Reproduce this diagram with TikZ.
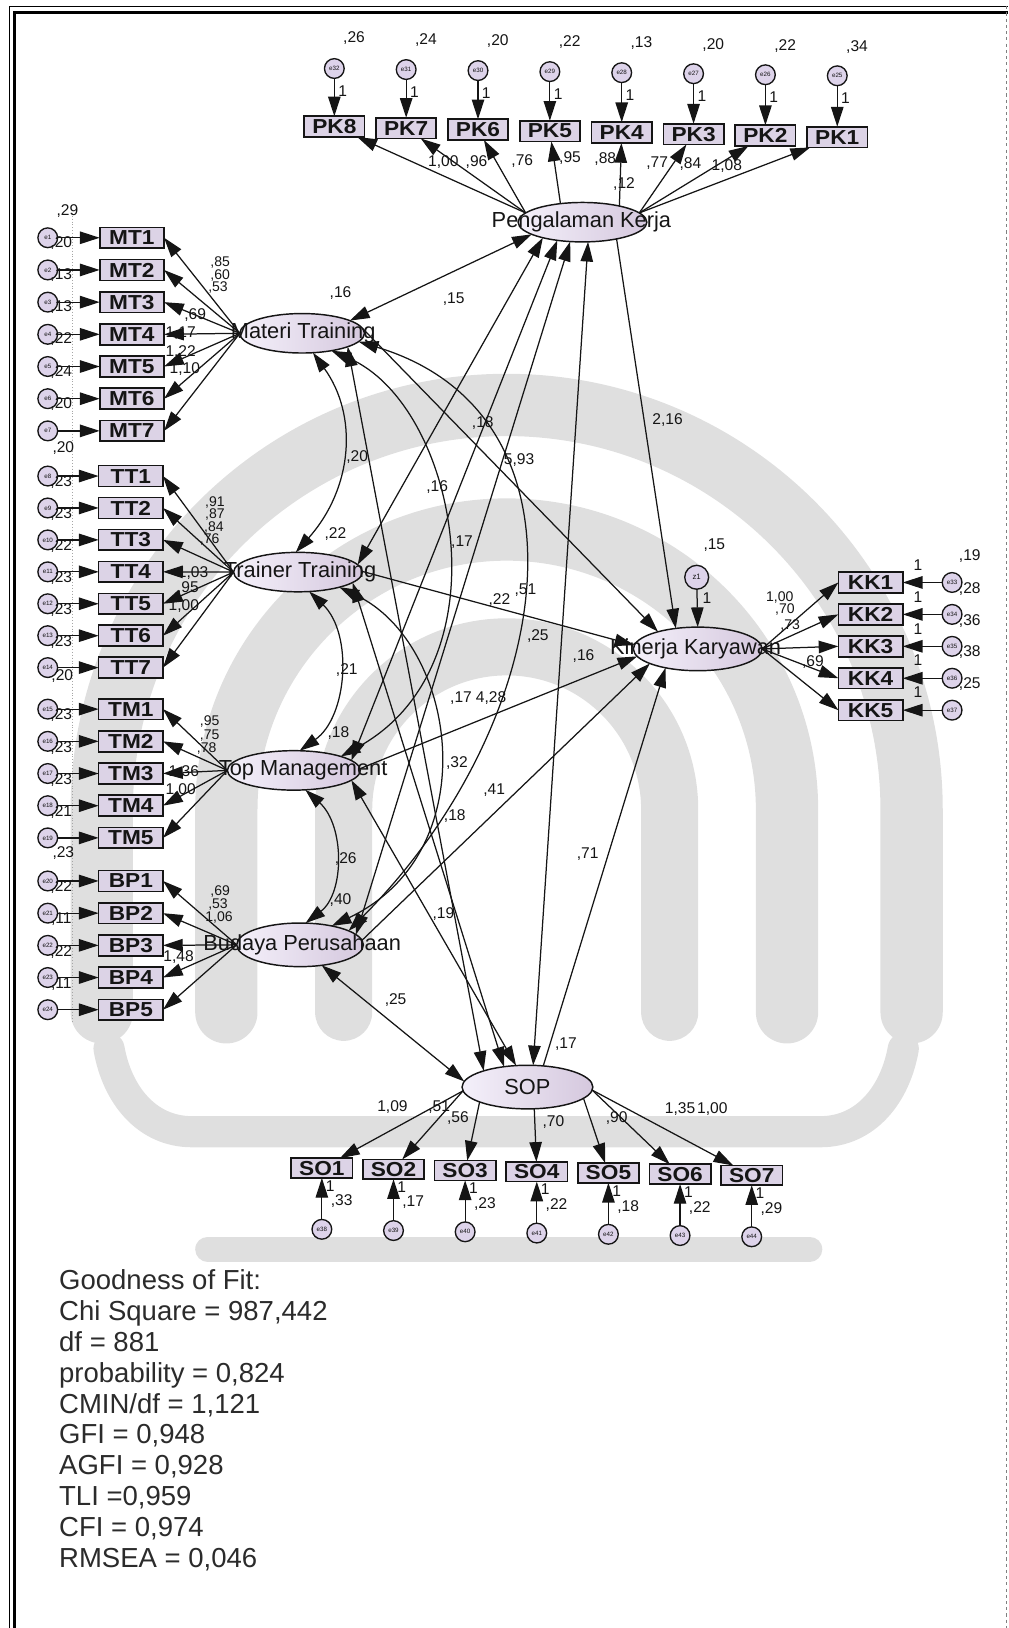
\documentclass[tikz,border=0pt]{standalone}
\usepackage{fontspec}
\setmainfont{Liberation Sans}
\usepackage{graphicx}
\usetikzlibrary{arrows.meta,calc,shapes.geometric}
\definecolor{latL}{HTML}{F4F0FA}
\definecolor{latR}{HTML}{D5C8DE}
\definecolor{obsfill}{HTML}{DCD3E6}
\definecolor{errfill}{HTML}{DDD3EA}
\definecolor{ink}{HTML}{151515}
\definecolor{fittext}{HTML}{2B2B2B}
\definecolor{wmark}{HTML}{DFDFDF}
\newcommand{\boxlabel}[1]{\scalebox{1.12}[1]{#1}}
\begin{document}
\begin{tikzpicture}[x=1pt,y=1pt,
  every node/.style={inner sep=0pt,outer sep=0pt,text=ink},
  lbl/.style={font=\fontsize{15}{15}\selectfont},
  slbl/.style={font=\fontsize{13.5}{13.5}\selectfont},
  obs/.style={draw=ink,line width=1.6pt,fill=obsfill,minimum width=62pt,minimum height=20pt,font=\fontsize{19.5}{19.5}\selectfont\bfseries},
  latent/.style={draw=ink,ellipse,line width=1.4pt,left color=latL,right color=latR},
  lattext/.style={font=\fontsize{21}{21}\selectfont},
  err/.style={draw=ink,circle,line width=1.3pt,fill=errfill,minimum size=19pt,font=\fontsize{6}{6}\selectfont},
  ar/.style={draw=ink,line width=1.2pt,-{Triangle[length=19pt,width=12pt]}},
  dar/.style={draw=ink,line width=1.2pt,{Triangle[length=19pt,width=12pt]}-{Triangle[length=19pt,width=12pt]}},
  band/.style={draw=wmark,line cap=round},
]
\useasboundingbox (0,0) rectangle (971,-1568);

% background emblem: arches over curled bands
\begin{scope}
  \clip (20,-330) rectangle (960,-1240);
  \foreach \r/\w in {390/60,270/60,157/55}
    \draw[band,line width=\w] ({488-\r},-975) -- ({488-\r},-780)
      arc[start angle=180,end angle=0,radius=\r] -- ({488+\r},-975);
  \draw[band,line width=30pt] (105,-1010) to[out=-80,in=180] (185,-1090) -- (790,-1090) to[out=0,in=-100] (870,-1010);
  \draw[band,line width=24pt] (200,-1203) -- (780,-1203);
\end{scope}

% frame
\draw[line width=1.2pt] (9,-1568) -- (9,-6) -- (971,-6);
\draw[line width=2.9pt] (13.5,-1568) -- (13.5,-12) -- (971,-12);
\draw[gray,line width=1pt,dashed] (969.5,-6) -- (969.5,-1568);
\draw[gray!70,line width=0.8pt,dotted] (70,-205) -- (70,-985);

% latent variables
\node[latent,minimum width=124pt,minimum height=38pt] (pk) at (561,-214) {};
\node[latent,minimum width=120pt,minimum height=38pt] (mt) at (291,-321) {};
\node[latent,minimum width=124pt,minimum height=38pt] (tt) at (287,-551) {};
\node[latent,minimum width=128pt,minimum height=38pt] (tm) at (283,-742) {};
\node[latent,minimum width=122pt,minimum height=42pt] (bp) at (289,-910) {};
\node[latent,minimum width=124pt,minimum height=42pt] (kk) at (672,-625) {};
\node[latent,minimum width=126pt,minimum height=42pt] (sop) at (508,-1047) {};
\node[lattext] at (560,-214) {Pengalaman Kerja};
\node[lattext] at (292,-321) {Materi Training};
\node[lattext] at (289,-551) {Trainer Training};
\node[lattext] at (292,-742) {Top Management};
\node[lattext] at (291,-910) {Budaya Perusahaan};
\node[lattext] at (670,-625) {Kinerja Karyawan};
\node[lattext] at (508,-1047) {SOP};
\node[err,minimum size=23pt,font=\fontsize{7.5}{7.5}\selectfont] (z1) at (671,-556) {z1};

% Pengalaman Kerja indicators
\foreach \n [count=\k from 0] in {8,7,6,5,4,3,2,1} {
  \node[obs,minimum width=58pt] (pk\n) at ({322+69.2*\k},{-122-1.43*\k}) {\boxlabel{PK\n}};
  \node[err] (epk\n) at ({322+69.2*\k},{-66-\k}) {e\the\numexpr 24+\n\relax};
  \draw[ar] (epk\n) -- (pk\n);
  \node[lbl] at ({330+69.2*\k},{-88-\k}) {1};
}
\foreach \v [count=\k from 0] in {26,24,20,22,13,20,22,34}
  \node[lbl] at ({341+69.2*\k},{-37-1.2*\k}) {,\v};
\foreach \n in {8,7,6} \draw[ar] ($(pk.center)+(152:62 and 19)$) -- (pk\n);
\draw[ar] ($(pk.center)+(110:62 and 19)$) -- (pk5);
\draw[ar] ($(pk.center)+(55:62 and 19)$) -- (pk4);
\foreach \n in {3,2,1} \draw[ar] ($(pk.center)+(28:62 and 19)$) -- (pk\n);

% Materi Training indicators
\foreach \y [count=\i] in {229,260,291,322,353,384,415} {
  \node[obs] (mt\i) at (127,-\y) {\boxlabel{MT\i}};
  \node[err] (emt\i) at (46,-\y) {e\i};
  \draw[ar] (emt\i) -- (mt\i);
  \draw[ar] (mt.west) -- (mt\i.east);
}
% Trainer Training indicators
\foreach \y [count=\i] in {458.5,489.25,520,550.75,581.5,612.25,643} {
  \node[obs] (tt\i) at (126,-\y) {\boxlabel{TT\i}};
  \node[err] (ett\i) at (46,-\y) {e\the\numexpr 7+\i\relax};
  \draw[ar] (ett\i) -- (tt\i);
  \draw[ar] (tt.west) -- (tt\i.east);
}
% Top Management indicators
\foreach \y [count=\i] in {683,714,745,776,807} {
  \node[obs] (tm\i) at (126,-\y) {\boxlabel{TM\i}};
  \node[err] (etm\i) at (46,-\y) {e\the\numexpr 14+\i\relax};
  \draw[ar] (etm\i) -- (tm\i);
  \draw[ar] (tm.west) -- (tm\i.east);
}
% Budaya Perusahaan indicators
\foreach \y [count=\i] in {848.5,879.5,910.5,941.5,972.5} {
  \node[obs] (bp\i) at (126,-\y) {\boxlabel{BP\i}};
  \node[err] (ebp\i) at (46,-\y) {e\the\numexpr 19+\i\relax};
  \draw[ar] (ebp\i) -- (bp\i);
  \draw[ar] (bp.west) -- (bp\i.east);
}
% Kinerja Karyawan indicators
\foreach \y [count=\i] in {561,591.75,622.5,653.25,684} {
  \node[obs] (kk\i) at (838.5,-\y) {\boxlabel{KK\i}};
  \node[err] (ekk\i) at (917,-\y) {e\the\numexpr 32+\i\relax};
  \draw[ar] (ekk\i) -- (kk\i);
  \draw[ar] (kk.east) -- (kk\i.west);
  \node[lbl] at (884,{-\y+17}) {1};
}
% SOP indicators
\foreach \i in {1,...,7} {
  \node[obs,minimum width=59pt,minimum height=19pt] (so\i) at ({310+69*(\i-1)},{-1125-1.17*(\i-1)}) {\boxlabel{SO\i}};
  \node[err] (eso\i) at ({310+69*(\i-1)},{-1184-1.2*(\i-1)}) {e\the\numexpr 37+\i\relax};
  \draw[ar] (eso\i) -- (so\i);
  \node[lbl] at ({318+69*(\i-1)},{-1142-1.2*(\i-1)}) {1};
}
\foreach \v [count=\i] in {33,17,23,22,18,22,29}
  \node[lbl] at ({329+69*(\i-1)},{-1157-1.3*(\i-1)}) {,\v};
\draw[ar] ($(sop.center)+(190:63 and 21)$) -- (so1);
\draw[ar] ($(sop.center)+(190:63 and 21)$) -- (so2);
\draw[ar] ($(sop.center)+(223:63 and 21)$) -- (so3);
\draw[ar] ($(sop.center)+(276:63 and 21)$) -- (so4);
\draw[ar] ($(sop.center)+(-31:63 and 21)$) -- (so5);
\draw[ar] ($(sop.center)+(-8:63 and 21)$) -- (so6);
\draw[ar] ($(sop.center)+(-8:63 and 21)$) -- (so7);

% covariances among the exogenous factors
\draw[dar] ($(mt.center)+(40:60 and 19)$) -- ($(pk.center)+(218:62 and 19)$);
\draw[dar] ($(tt.center)+(22:62 and 19)$) -- ($(pk.center)+(232:62 and 19)$);
\draw[dar] ($(tm.center)+(30:64 and 19)$) -- ($(pk.center)+(247:62 and 19)$);
\draw[dar] ($(bp.center)+(28:61 and 21)$) -- ($(pk.center)+(259:62 and 19)$);
\draw[dar] ($(sop.center)+(85:63 and 21)$) -- ($(pk.center)+(275:62 and 19)$);
\draw[dar] ($(mt.center)+(-43:60 and 19)$) -- ($(sop.center)+(132:63 and 21)$);
\draw[dar] ($(tt.center)+(-32:62 and 19)$) -- ($(sop.center)+(111:63 and 21)$);
\draw[dar] ($(tm.center)+(-30:64 and 19)$) -- ($(sop.center)+(100:63 and 21)$);
\draw[dar] ($(bp.center)+(-70:61 and 21)$) -- ($(sop.center)+(165:63 and 21)$);
\draw[dar] ($(mt.center)+(-80:60 and 19)$) .. controls (345,-400) and (340,-470) .. ($(tt.center)+(92:62 and 19)$);
\draw[dar] ($(tt.center)+(-80:62 and 19)$) .. controls (340,-610) and (335,-690) .. ($(tm.center)+(85:64 and 19)$);
\draw[dar] ($(tm.center)+(-80:64 and 19)$) .. controls (332,-795) and (332,-860) .. ($(bp.center)+(85:61 and 21)$);
\draw[dar] ($(mt.center)+(-62:60 and 19)$) .. controls (440,-390) and (490,-640) .. ($(tm.center)+(45:64 and 19)$);
\draw[dar] ($(tt.center)+(-50:62 and 19)$) .. controls (440,-620) and (470,-820) .. ($(bp.center)+(60:61 and 21)$);
\draw[dar] ($(mt.center)+(-25:60 and 19)$) .. controls (580,-400) and (536,-696) .. ($(bp.center)+(40:61 and 21)$);

% regressions on Kinerja Karyawan
\draw[ar] ($(pk.center)+(-58:62 and 19)$) -- ($(kk.center)+(110:62 and 21)$);
\draw[ar] ($(mt.center)+(15:60 and 19)$) -- ($(kk.center)+(128:62 and 21)$);
\draw[ar] ($(tt.center)+(2:62 and 19)$) -- ($(kk.center)+(170:62 and 21)$);
\draw[ar] ($(tm.center)+(5:64 and 19)$) -- ($(kk.center)+(200:62 and 21)$);
\draw[ar] ($(bp.center)+(12:61 and 21)$) -- ($(kk.center)+(222:62 and 21)$);
\draw[ar] ($(sop.center)+(76:63 and 21)$) -- ($(kk.center)+(240:62 and 21)$);
\draw[ar] (z1) -- ($(kk.center)+(90:62 and 21)$);

% error variances of the left indicators
\node[lbl] at (65,-203) {,29};
\foreach \y/\v in {229/20,260/13,291/13,322/22,353/24,384/20} \node[lbl] at (59,{-\y-5}) {,\v};
\node[lbl] at (61,-432) {,20};
\foreach \y/\v in {458.5/23,489.25/23,520/22,550.75/23,581.5/23,612.25/23} \node[lbl] at (59,{-\y-6}) {,\v};
\node[lbl] at (60,-651) {,20};
\foreach \y/\v in {683/23,714/23,745/23,776/21} \node[lbl] at (59,{-\y-6}) {,\v};
\node[lbl] at (61,-822) {,23};
\foreach \y/\v in {848.5/22,879.5/11,910.5/22,941.5/11} \node[lbl] at (59,{-\y-6}) {,\v};

% error variances of the right indicators
\node[lbl] at (934,-536) {,19};
\foreach \y/\v in {561/28,591.75/36,622.5/38,653.25/25} \node[lbl] at (934,{-\y-6}) {,\v};

% loadings
\node[lbl] at (427,-156) {1,00};
\node[lbl] at (459,-156) {,96};
\node[lbl] at (503,-155) {,76};
\node[lbl] at (549,-152) {,95};
\node[lbl] at (583,-153) {,88};
\node[lbl] at (601,-177) {,12};
\node[lbl] at (633,-157) {,77};
\node[lbl] at (665,-158) {,84};
\node[lbl] at (700,-160) {1,08};

\node[slbl] at (212,-253) {,85};
\node[slbl] at (212,-265) {,60};
\node[slbl] at (210,-277) {,53};
\node[lbl] at (188,-303) {,69};
\node[lbl] at (174,-321) {1,17};
\node[lbl] at (174,-339) {1,22};
\node[lbl] at (178,-355) {1,10};

\node[slbl] at (207,-484) {,91};
\node[slbl] at (207,-496) {,87};
\node[slbl] at (206,-508) {,84};
\node[slbl] at (202,-520) {,76};
\node[lbl] at (186,-552) {1,03};
\node[lbl] at (181,-566) {,95};
\node[lbl] at (177,-584) {1,00};

\node[slbl] at (202,-695) {,95};
\node[slbl] at (202,-708) {,75};
\node[slbl] at (199,-721) {,78};
\node[lbl] at (177,-744) {1,36};
\node[lbl] at (174,-761) {1,00};

\node[slbl] at (212,-859) {,69};
\node[slbl] at (210,-871) {,53};
\node[slbl] at (211,-884) {1,06};
\node[lbl] at (172,-922) {1,48};

\node[slbl] at (751,-575) {1,00};
\node[slbl] at (756,-587) {,70};
\node[slbl] at (761,-602) {,73};
\node[lbl] at (783,-638) {,69};

\node[lbl] at (378,-1066) {1,09};
\node[lbl] at (423,-1066) {,51};
\node[lbl] at (441,-1077) {,56};
\node[lbl] at (533,-1081) {,70};
\node[lbl] at (594,-1077) {,90};
\node[lbl] at (655,-1068) {1,35};
\node[lbl] at (686,-1068) {1,00};

% factor variances
\node[lbl] at (328,-282) {,16};
\node[lbl] at (323,-514) {,22};
\node[lbl] at (326,-706) {,18};
\node[lbl] at (328,-867) {,40};
\node[lbl] at (545,-1006) {,17};
\node[lbl] at (688,-525) {,15};
\node[lbl] at (681,-576) {1};

% structural estimates
\node[lbl] at (437,-288) {,15};
\node[lbl] at (465,-407) {,18};
\node[lbl] at (500,-443) {5,93};
\node[lbl] at (643,-405) {2,16};
\node[lbl] at (344,-440) {,20};
\node[lbl] at (421,-469) {,16};
\node[lbl] at (445,-522) {,17};
\node[lbl] at (481,-578) {,22};
\node[lbl] at (506,-568) {,51};
\node[lbl] at (518,-613) {,25};
\node[lbl] at (562,-632) {,16};
\node[lbl] at (334,-645) {,21};
\node[lbl] at (444,-672) {,17};
\node[lbl] at (473,-672) {4,28};
\node[lbl] at (440,-735) {,32};
\node[lbl] at (476,-761) {,41};
\node[lbl] at (438,-786) {,18};
\node[lbl] at (333,-827) {,26};
\node[lbl] at (566,-823) {,71};
\node[lbl] at (427,-880) {,19};
\node[lbl] at (381,-963) {,25};

% fit statistics
\node[anchor=north west,align=left,text=fittext,font=\fontsize{26.5}{29.7}\selectfont] (fit) at (57,-1223)
  {Goodness of Fit:\\Chi Square = 987,442\\df = 881\\probability = 0,824\\CMIN/df = 1,121\\GFI = 0,948\\AGFI = 0,928\\TLI =0,959\\CFI = 0,974\\RMSEA = 0,046};
\end{tikzpicture}
\end{document}
